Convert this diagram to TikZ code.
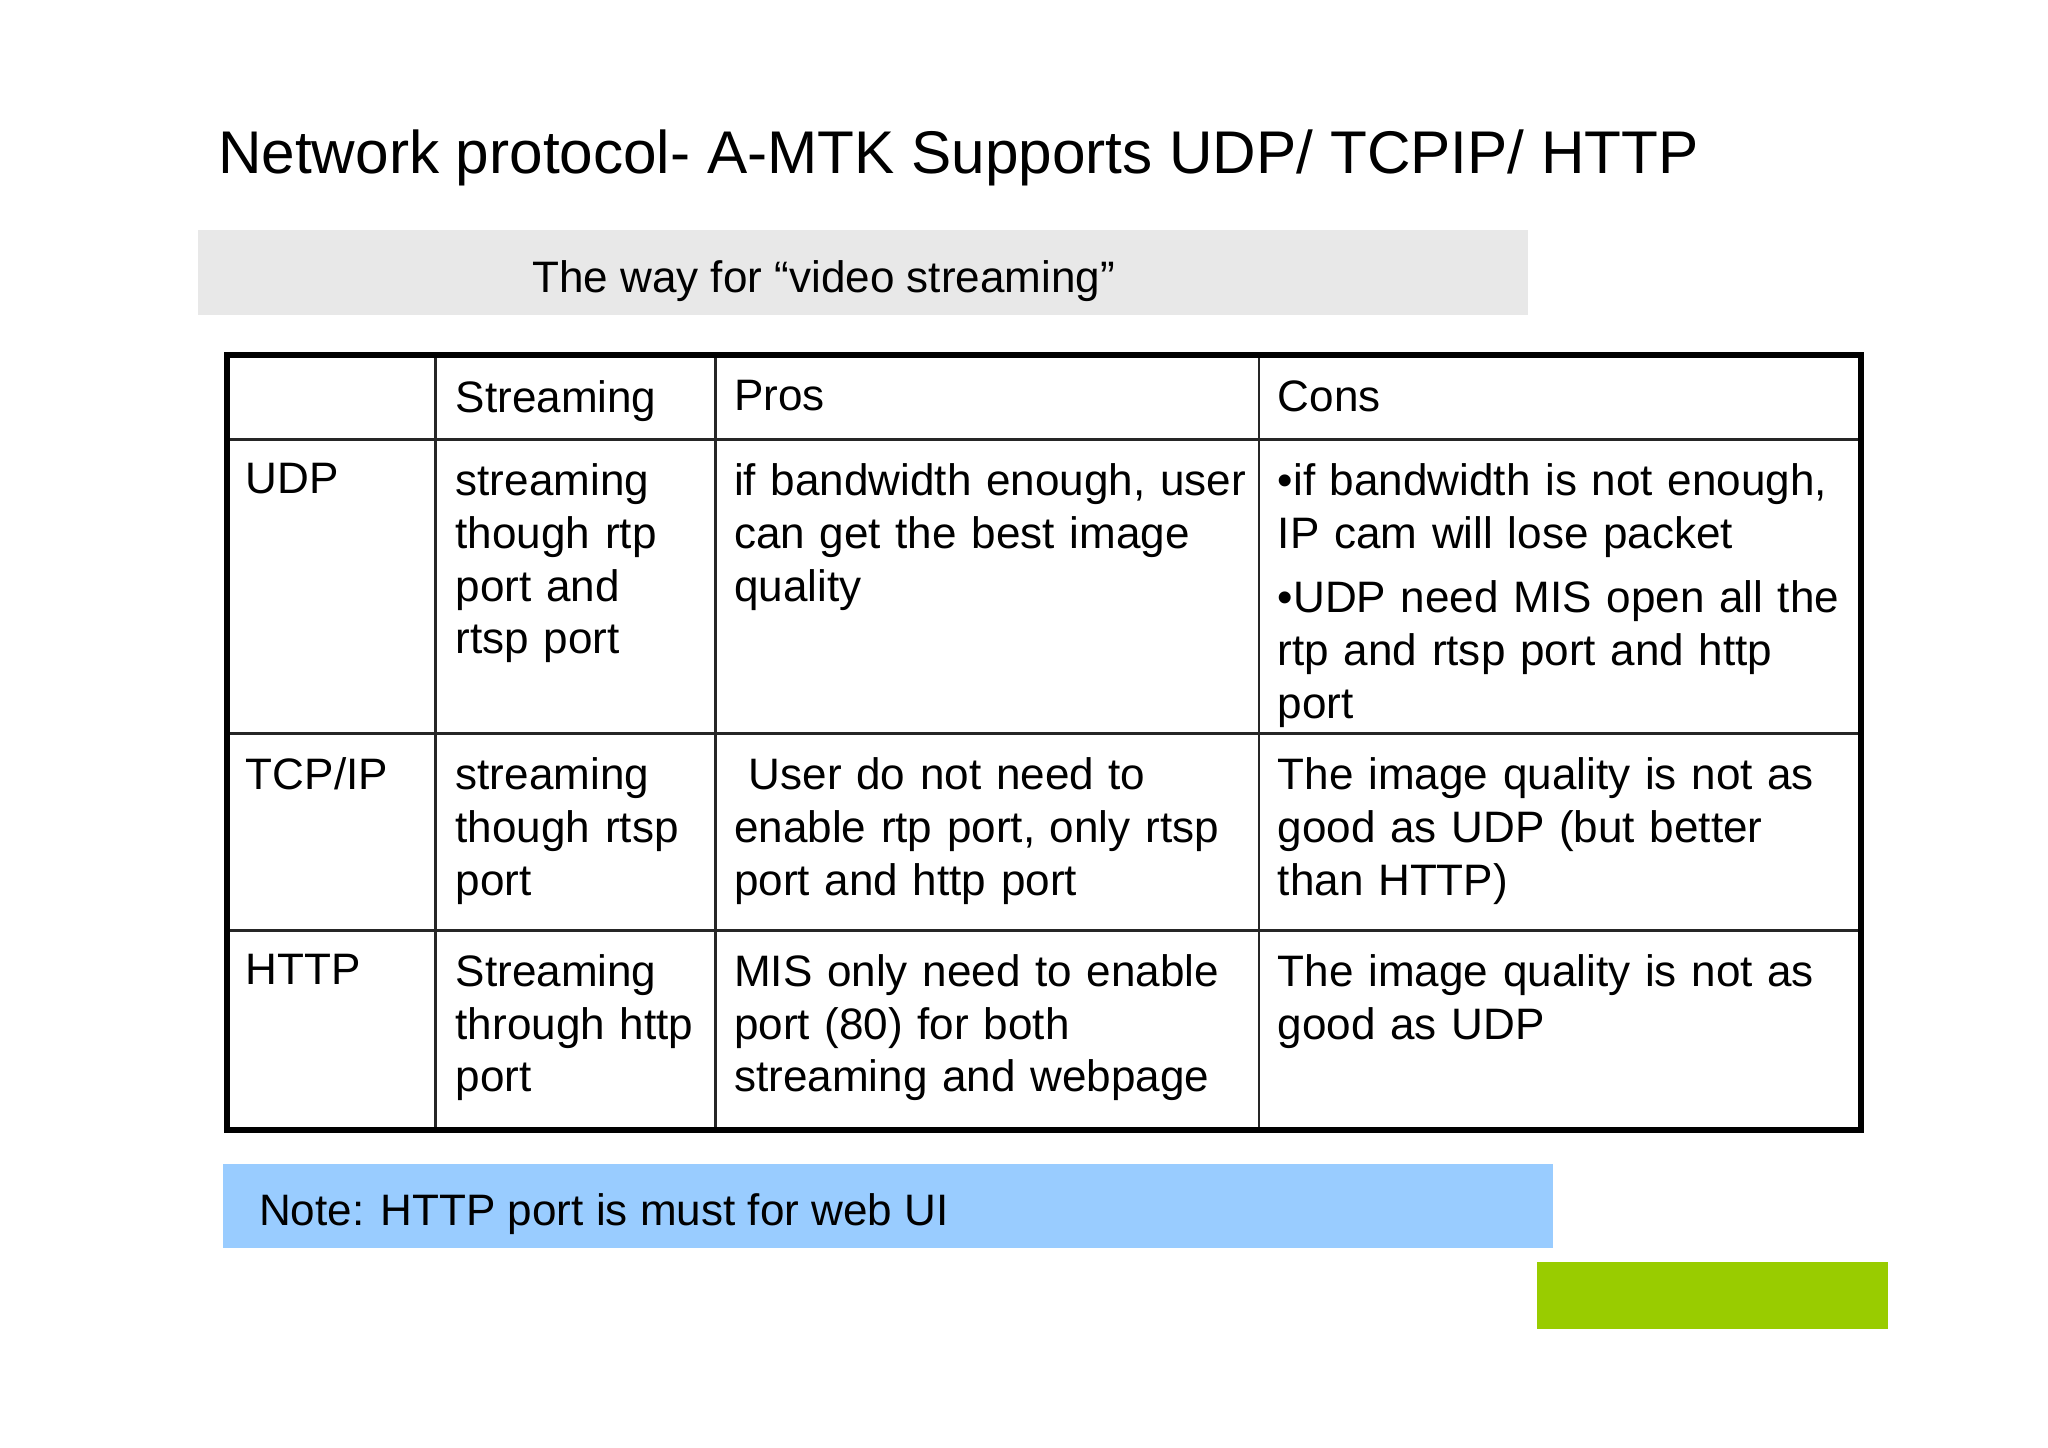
\documentclass[tikz,border=0pt]{standalone}
\usepackage{fontspec}
\setmainfont{Liberation Sans}
\begin{document}
\begin{tikzpicture}[x=0.02cm,y=-0.02cm,
  cell/.style={anchor=north west,inner sep=0pt,align=left,font=\fontsize{19}{22.76}\selectfont},
  grid/.style={line width=1.2pt,black!85}]
\useasboundingbox[fill=white] (0,0) rectangle (1552,1097);
\node[anchor=west,inner sep=0pt,font=\fontsize{26}{30}\selectfont] (title) at (165,120) {Network protocol- A-MTK Supports UDP/ TCPIP/ HTTP};
\fill[gray!18] (150,174) rectangle (1158,239);
\node[anchor=west,inner sep=0pt,font=\fontsize{19}{22}\selectfont] (sub) at (403,213) {The way for “video streaming”};
% table
\draw[grid] (330,269) -- (330,856) (542,269) -- (542,856) (954,269) -- (954,856);
\draw[grid] (172,333) -- (1410,333) (172,556) -- (1410,556) (172,705) -- (1410,705);
\draw[line width=2.6pt] (172,269) rectangle (1410,856);
% header
\node[cell] (h1) at (345,288) {Streaming};
\node[cell] (h2) at (556,288) {Pros};
\node[cell] (h3) at (968,288) {Cons};
% UDP
\node[cell] (r1) at (186,351) {UDP};
\node[cell,text width=7cm] (r1a) at (345,351) {streaming\\though rtp\\port and\\rtsp port};
\node[cell,text width=8.5cm] (r1b) at (556,351) {if bandwidth enough, user\\can get the best image\\quality};
\node[cell,text width=9cm] (r1c) at (968,351) {•if bandwidth is not enough,\\IP cam will lose packet};
\node[cell,text width=9cm] (r1d) at (968,440) {•UDP need MIS open all the\\rtp and rtsp port and http\\port};
% TCP
\node[cell] (r2) at (186,574) {TCP/IP};
\node[cell,text width=7cm] (r2a) at (345,574) {streaming\\though rtsp\\port};
\node[cell,text width=8.5cm] (r2b) at (556,574) {\ User do not need to\\enable rtp port, only rtsp\\port and http port};
\node[cell,text width=9cm] (r2c) at (968,574) {The image quality is not as\\good as UDP (but better\\than HTTP)};
% HTTP
\node[cell] (r3) at (186,723) {HTTP};
\node[cell,text width=7cm] (r3a) at (345,723) {Streaming\\through http\\port};
\node[cell,text width=8.5cm] (r3b) at (556,723) {MIS only need to enable\\port (80) for both\\streaming and webpage};
\node[cell,text width=9cm] (r3c) at (968,723) {The image quality is not as\\good as UDP};
% note
\fill[fill={rgb,255:red,153;green,204;blue,255}] (169,882) rectangle (1177,946);
\node[anchor=west,inner sep=0pt,font=\fontsize{19}{22}\selectfont] (note) at (196,920) {Note: HTTP port is must for web UI};
\fill[fill={rgb,255:red,153;green,204;blue,0}] (1165,956) rectangle (1431,1007);
\end{tikzpicture}
\end{document}
